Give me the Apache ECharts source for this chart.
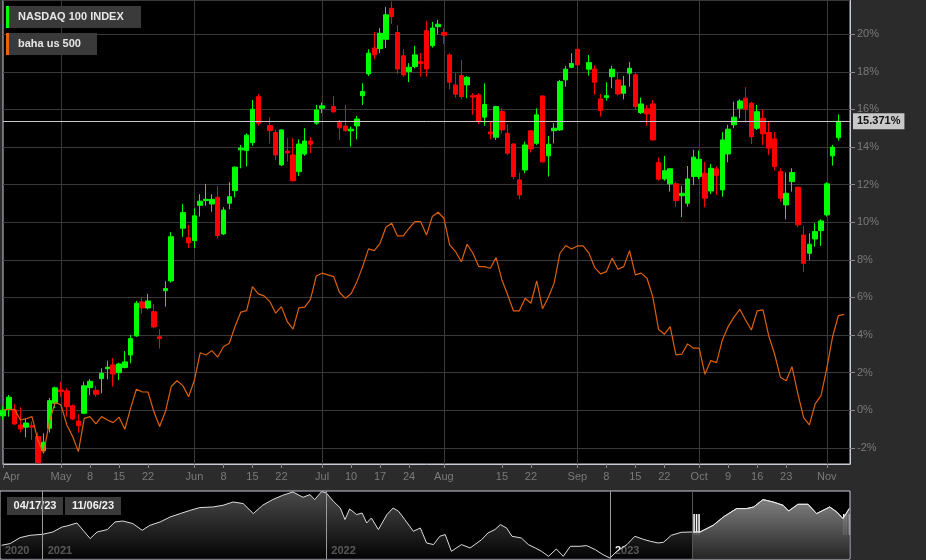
<!DOCTYPE html>
<html><head><meta charset="utf-8">
<script src="https://cdn.jsdelivr.net/npm/echarts@6/dist/echarts.min.js"></script>
<style>html,body{margin:0;padding:0;background:#2b2b2b;}#c{width:926px;height:560px;}</style>
</head><body><div id="c"></div>
<script>
const FONT = '"Liberation Sans", Arial, sans-serif';
const seriesNames = ['NASDAQ 100 INDEX', 'baha us 500'];
const firstDay = '2023-04-17', lastDay = '2023-11-07';

// Main chart (percent change), one entry per weekday from 2023-04-17; null = market holiday
const ndxOpen = [-0.3,0.05,0.02,-0.78,-0.9,-0.82,-1.4,-2.15,-0.96,0.37,
1.08,1.03,0.24,-0.57,-0.16,1.2,1.06,1.68,2.21,2.41,
2.0,2.27,2.94,3.95,5.76,5.44,5.24,3.91,6.36,6.88,
null,9.68,9.18,9.02,10.9,11.15,10.97,11.33,9.38,11.01,
11.68,13.85,13.81,14.23,16.68,null,15.14,14.77,13.05,13.78,
13.58,12.69,13.63,14.32,15.27,16.06,null,16.15,15.3,15.12,
14.86,15.12,16.73,17.89,19.27,19.23,19.73,21.38,20.09,18.85,
18.01,18.28,18.54,20.19,19.39,20.4,20.09,18.9,17.3,17.8,
17.3,16.73,16.77,15.59,14.8,14.52,15.9,14.73,14.16,12.25,
12.78,14.86,14.2,16.72,13.53,14.87,14.91,17.57,18.24,19.2,
null,18.14,18.15,16.56,16.63,17.74,17.57,16.86,17.93,17.84,
15.83,16.03,16.29,13.17,12.3,12.04,12.04,11.41,11.01,12.43,
12.43,12.61,11.66,12.84,11.72,13.63,15.18,16.06,16.6,16.33,
15.0,15.53,14.77,14.43,12.69,10.92,12.16,11.86,9.32,8.35,
9.11,9.55,10.39,13.53,14.5];
const ndxClose = [0.0,0.69,-0.73,-0.99,-0.68,-0.9,-2.79,-1.7,0.51,1.19,
0.99,0.19,-0.46,-0.82,1.3,1.54,0.85,1.97,2.29,1.93,
2.46,2.57,3.81,5.69,5.44,5.81,4.43,3.81,6.47,9.23,
null,10.51,8.9,10.34,11.12,11.22,11.22,9.29,10.65,11.36,
12.93,13.94,14.63,16.01,15.27,null,14.87,13.58,14.91,13.69,
12.21,14.16,14.32,14.15,15.97,16.19,null,15.87,15.02,14.87,
14.95,15.49,16.95,18.99,18.9,20.05,21.03,20.94,18.15,17.84,
18.24,18.9,18.44,18.15,20.33,20.53,19.95,17.45,16.81,16.68,
17.71,16.66,15.4,16.26,14.7,16.15,14.91,13.67,12.43,11.45,
14.11,13.9,15.71,13.21,14.15,15.0,17.48,18.14,18.44,18.37,
null,18.49,17.45,15.94,16.73,18.14,16.82,17.25,18.19,16.15,
16.29,15.76,14.38,12.29,12.74,12.84,11.15,11.54,12.3,13.46,
13.35,11.28,12.87,12.48,14.38,14.95,15.59,16.45,16.01,14.55,
15.88,14.7,13.94,12.96,11.28,11.54,12.64,9.86,7.82,8.83,
9.5,10.07,12.04,13.99,15.371];
const ndxLow = [-0.5,-0.34,-0.78,-1.19,-1.44,-1.58,-2.82,-2.29,-1.19,0.11,
0.72,-0.34,-0.52,-1.19,-0.2,0.8,0.72,0.9,1.65,1.26,
1.61,2.23,2.5,3.91,5.16,5.37,4.36,3.28,5.51,6.79,
null,9.23,8.62,8.62,10.3,10.88,10.56,9.15,9.32,10.69,
11.33,12.87,12.96,14.06,15.14,null,14.2,13.31,12.99,13.22,
12.16,12.46,13.53,13.67,15.18,15.8,null,15.83,14.38,14.82,
14.02,14.41,16.24,17.78,18.67,18.99,19.26,20.55,17.89,17.74,
17.45,18.19,17.74,17.74,19.29,20.0,19.47,17.07,16.63,16.56,
16.6,15.71,15.23,15.14,14.41,14.38,14.73,13.58,12.29,11.22,
12.61,13.7,14.11,13.17,12.43,14.2,14.87,17.21,18.19,17.84,
null,17.8,16.77,15.62,16.47,17.13,16.73,16.54,17.21,15.97,
15.76,15.14,14.34,12.21,12.21,11.63,10.83,10.27,10.83,11.98,
12.29,10.8,11.5,11.45,11.36,13.19,15.0,15.53,15.3,14.16,
14.91,14.11,13.58,12.74,11.1,10.16,11.63,9.73,7.37,7.99,
8.7,8.74,10.3,13.01,14.34];
const ndxHigh = [0.2,0.81,0.32,0.16,-0.46,-0.61,-1.19,-1.22,0.65,1.26,
1.52,1.17,0.3,-0.2,1.52,1.65,1.29,2.23,2.64,2.77,
2.53,3.15,4.0,5.81,6.01,6.19,5.65,4.31,6.86,9.47,
null,10.97,9.86,10.74,11.49,12.04,11.49,11.93,10.8,12.13,
12.96,14.11,14.73,16.5,16.81,null,15.59,14.91,14.95,14.47,
14.47,14.41,15.0,14.52,16.24,16.36,null,16.72,15.44,16.24,
15.09,15.65,17.39,19.2,20.11,20.32,21.44,21.73,20.49,19.2,
18.46,19.38,18.99,20.71,20.65,20.76,20.32,18.99,17.93,18.63,
17.78,16.86,16.86,17.39,15.35,16.19,16.06,15.21,14.2,12.64,
14.29,14.91,16.06,16.72,14.59,15.27,17.57,18.31,18.99,19.31,
null,18.9,18.35,16.82,17.45,18.31,18.01,17.78,18.51,17.96,
16.63,16.24,16.5,13.46,13.53,12.87,12.16,11.93,12.99,13.85,
13.81,13.22,13.09,12.96,14.79,15.18,16.41,16.54,17.18,16.41,
16.24,16.01,15.35,14.79,12.87,12.64,12.87,11.89,9.8,9.41,
9.95,10.16,12.13,14.11,15.74];
const baha = [0.02,0.05,0.05,-0.52,-0.45,-0.34,-1.58,-2.29,-0.61,0.43,
0.28,-0.78,-1.4,-2.2,-0.43,-0.34,-0.73,-0.34,-0.52,-0.66,
-0.37,-1.01,0.11,1.12,0.97,0.97,-0.07,-0.87,-0.07,1.26,
1.57,1.31,0.72,1.61,3.06,2.94,3.17,2.82,3.38,3.56,
4.45,5.22,5.3,6.57,6.19,6.08,5.78,5.16,5.51,4.71,
4.31,5.44,5.48,5.9,7.14,7.29,7.2,7.11,6.26,5.96,
6.19,6.84,7.64,8.58,8.49,8.88,9.73,9.95,9.27,9.27,
9.68,10.03,10.03,9.32,10.3,10.53,10.21,8.79,8.44,7.9,
8.83,8.35,7.64,7.64,7.55,8.12,6.93,6.13,5.28,5.28,
5.96,5.69,6.88,5.4,6.0,6.76,8.35,8.76,8.58,8.74,
8.74,8.35,7.59,7.25,7.37,8.09,7.5,7.64,8.49,7.2,
7.29,7.02,6.04,4.31,4.04,4.45,2.94,2.98,3.53,3.3,
3.3,1.91,2.64,2.53,3.74,4.45,4.95,5.37,4.8,4.27,
5.28,5.34,3.95,2.99,1.76,1.57,2.32,0.9,-0.39,-0.78,
0.34,0.78,2.23,3.91,5.03,5.1];

// X-axis tick labels
const xTickDates = ['2023-04-17','2023-05-01','2023-05-08','2023-05-15','2023-05-22','2023-06-01','2023-06-08','2023-06-15','2023-06-22','2023-07-03','2023-07-10','2023-07-17','2023-07-24','2023-08-01','2023-08-15','2023-08-22','2023-09-01','2023-09-08','2023-09-15','2023-09-22','2023-10-02','2023-10-09','2023-10-16','2023-10-23','2023-11-01'];
const xTickLabels = ['Apr','May','8','15','22','Jun','8','15','22','Jul','10','17','24','Aug','15','22','Sep','8','15','22','Oct','9','16','23','Nov'];
const monthStarts = ['2023-05-01','2023-06-01','2023-07-03','2023-08-01','2023-09-01','2023-10-02','2023-11-01'];
const yMin = -2.86, yMax = 21.82;

// Navigator (overview) : days since navigator start, index level
const navStartDate = '2020-11-07', navEndDate = '2023-11-06';
const navDays = [2,13,26,39,55,68,80,86,99,107,116,125,138,148,158,171,183,193,206,219,232,245,257,274,287,300,313,326,338,351,364,377,390,399,405,414,420,429,438,444,450,459,466,472,478,487,498,506,513,521,532,541,549,558,566,573,581,594,605,614,620,628,637,644,652,659,671,680,689,697,706,716,725,734,746,755,766,776,785,794,807,817,828,837,847,854,864,877,891,901,918,931,948,961,970,982,995,1008,1015,1027,1040,1051,1068,1077,1085,1093];
const navLevels = [11689,11837,12358,12557,12644,12844,13278,13364,13625,12991,12271,12844,13052,13712,13798,13573,12991,13425,13712,14146,14441,14727,14962,15014,15161,15448,15309,14441,15161,15656,16029,16316,15856,16090,15656,16350,16229,15508,14927,13920,14840,14354,14493,13625,14059,13052,14354,14927,14640,13920,12904,13191,11889,11750,12470,12618,11168,11750,11455,11889,12184,12757,13052,13486,13191,12470,12323,11750,11455,11168,10734,11368,10734,11602,11602,11663,11316,10882,10587,11168,11750,12470,12210,12036,11889,11950,12557,12818,12844,12844,13425,14146,14875,14875,15014,15656,15448,15161,14666,15248,15248,14441,15014,14580,14007,14875];
const navYears = ['2020','2021','2022','2023'];
const selectionStart = '2023-04-17', selectionEnd = '2023-11-06';
const selectionLabels = ['04/17/23','11/06/23'];

const DAY = 86400000;
const ts = s => Date.parse(s + 'T00:00:00Z');
const cats = [];
for (let t = ts(firstDay); t <= ts(lastDay); t += DAY) {
  const wd = new Date(t).getUTCDay();
  if (wd !== 0 && wd !== 6) cats.push(new Date(t).toISOString().slice(0, 10));
}
const candleData = cats.map((d, i) => (i < ndxOpen.length && ndxOpen[i] != null) ? [ndxOpen[i], ndxClose[i], ndxLow[i], ndxHigh[i]] : '-');
const bahaData = cats.map((d, i) => i < baha.length ? baha[i] : '-');
const tickMap = {}; xTickDates.forEach((d, k) => tickMap[d] = xTickLabels[k]);
const navStart = ts(navStartDate), navEnd = ts(navEndDate);
const navData = navDays.map((d, k) => [navStart + d * DAY, navLevels[k]]);
const selData = navData.filter(p => p[0] >= ts(selectionStart));
const lastClose = ndxClose[ndxClose.length - 1];

const chart = echarts.init(document.getElementById('c'), null, {renderer: 'canvas'});
chart.setOption({
  animation: false,
  backgroundColor: '#2b2b2b',
  textStyle: {fontFamily: FONT},
  grid: [
    {left: 0, top: 0, width: 850, height: 464, show: true, backgroundColor: '#000', borderColor: '#c8ccd8', borderWidth: 1},
    {left: 0, top: 491, width: 850, height: 68, show: true, backgroundColor: '#000', borderColor: '#c8ccd8', borderWidth: 1}
  ],
  xAxis: [
    {type: 'category', gridIndex: 0, data: cats, boundaryGap: false,
     axisLine: {show: true, onZero: false, lineStyle: {color: '#c8ccd8'}},
     axisTick: {show: true, length: 4, interval: (i, v) => tickMap[v] !== undefined, lineStyle: {color: '#8a8a8a'}},
     axisLabel: {show: true, interval: (i, v) => tickMap[v] !== undefined, formatter: v => tickMap[v] || '',
       color: '#7a7a7a', fontSize: 11, margin: 7, fontFamily: FONT, alignMinLabel: 'left', showMinLabel: true},
     splitLine: {show: true, interval: (i, v) => monthStarts.indexOf(v) >= 0, lineStyle: {color: '#3a3a3a'}}},
    {type: 'time', gridIndex: 1, min: navStart, max: navEnd, show: false, splitLine: {show: false}}
  ],
  yAxis: [
    {type: 'value', gridIndex: 0, position: 'right', min: yMin, max: yMax, splitNumber: 12, minInterval: 2, maxInterval: 2,
     axisLine: {show: true, onZero: false, lineStyle: {color: '#c8ccd8'}},
     axisTick: {show: true, length: 5, lineStyle: {color: '#8a8a8a'}},
     axisLabel: {color: '#7a7a7a', fontSize: 11, margin: 7, fontFamily: FONT, formatter: v => v + '%', showMinLabel: false, showMaxLabel: false},
     splitLine: {show: true, lineStyle: {color: '#3a3a3a'}}},
    {type: 'value', gridIndex: 1, min: 10500, max: 16400, show: false, splitLine: {show: false}}
  ],
  series: [
    {name: seriesNames[0], type: 'candlestick', xAxisIndex: 0, yAxisIndex: 0, data: candleData, barWidth: 5,
     itemStyle: {color: '#00ff00', color0: '#ff0000', borderColor: '#00ff00', borderColor0: '#ff0000', borderWidth: 1},
     markLine: {silent: true, animation: false, symbol: ['none', 'none'], data: [{yAxis: lastClose}],
       lineStyle: {color: '#c8c8c8', width: 1, type: 'solid'},
       label: {show: true, position: 'end', formatter: lastClose.toFixed(3) + '%', backgroundColor: '#c8c8c8', color: '#111',
         fontSize: 11, fontWeight: 'bold', fontFamily: FONT, padding: [3, 4, 2, 4], distance: 3}}},
    {name: seriesNames[1], type: 'line', xAxisIndex: 0, yAxisIndex: 0, data: bahaData, symbol: 'none', connectNulls: true,
     lineStyle: {color: '#dc600c', width: 1.2}, z: 3},
    {type: 'line', xAxisIndex: 1, yAxisIndex: 1, data: navData, symbol: 'none', silent: true,
     lineStyle: {color: '#dcdcdc', width: 1},
     areaStyle: {color: new echarts.graphic.LinearGradient(0, 0, 0, 1, [{offset: 0, color: '#6a6a6a'}, {offset: 1, color: '#050505'}])},
     markLine: {silent: true, animation: false, symbol: ['none', 'none'], label: {show: false},
       lineStyle: {color: '#9a9a9a', width: 1, type: 'solid'},
       data: navYears.slice(1).map(y => ({xAxis: ts(y + '-01-01')}))}},
    {type: 'line', xAxisIndex: 1, yAxisIndex: 1, data: selData, symbol: 'none', silent: true,
     lineStyle: {color: '#e8e8e8', width: 1},
     areaStyle: {color: new echarts.graphic.LinearGradient(0, 0, 0, 1, [{offset: 0, color: '#9a9a9a'}, {offset: 1, color: '#333333'}])},
     markLine: {silent: true, animation: false, symbol: ['none', 'none'], label: {show: false},
       lineStyle: {color: '#555', width: 1, type: 'solid'}, data: [{xAxis: ts(selectionStart)}]}}
  ]
});

function px(t) { return chart.convertToPixel({xAxisIndex: 1}, t); }
const g = [];
// legend boxes
const legColors = ['#00ff00', '#e8620a'];
const legW = [135, 91];
seriesNames.forEach((n, k) => {
  const y = 6 + k * 27;
  g.push({type: 'rect', shape: {x: 6, y: y, width: legW[k], height: 22}, style: {fill: '#3a3a3a'}, silent: true});
  g.push({type: 'rect', shape: {x: 6, y: y, width: 3, height: 22}, style: {fill: legColors[k]}, silent: true});
  g.push({type: 'text', x: 18, y: y + 11, style: {text: n, fill: '#e6e6e6', font: 'bold 11px ' + FONT, verticalAlign: 'middle'}, silent: true});
});
// selection date boxes
selectionLabels.forEach((s, k) => {
  const x = 7 + k * 58;
  g.push({type: 'rect', shape: {x: x, y: 497, width: 56, height: 18}, style: {fill: '#3a3a3a'}, silent: true});
  g.push({type: 'text', x: x + 28, y: 506, style: {text: s, fill: '#f0f0f0', font: 'bold 11px ' + FONT, align: 'center', verticalAlign: 'middle'}, silent: true});
});
// year labels
navYears.forEach((y, k) => {
  const x = k === 0 ? 5 : px(ts(y + '-01-01')) + 5;
  g.push({type: 'text', x: x, y: 551, style: {text: y, fill: '#f0f0f0', font: 'bold 11px ' + FONT, verticalAlign: 'middle'}, silent: true});
});
// navigator handles
[px(ts(selectionStart)) + 1, px(ts(selectionEnd)) - 7].forEach(hx => {
  [0, 2.5, 5].forEach(o => g.push({type: 'rect', shape: {x: hx + o, y: 514, width: 1.6, height: 21}, style: {fill: '#f4f4f4'}, silent: true}));
});
chart.setOption({graphic: g});
</script></body></html>
